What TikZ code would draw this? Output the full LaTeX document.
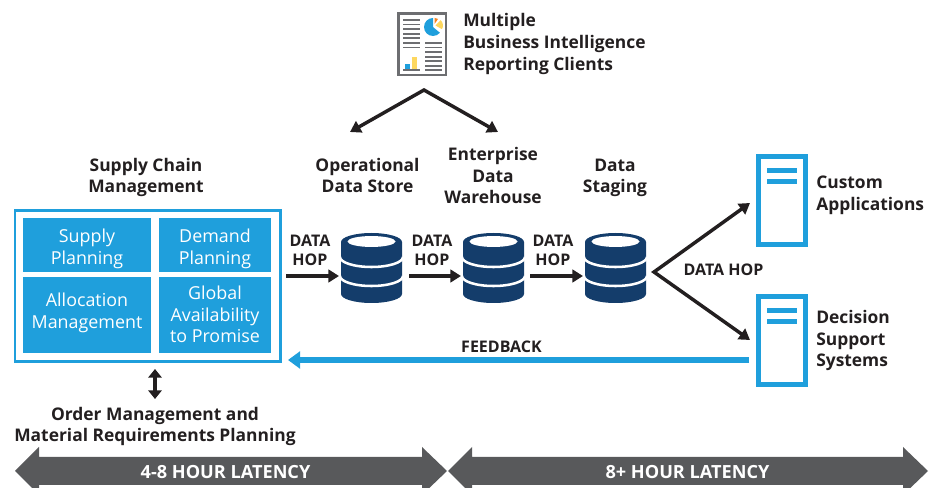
\documentclass[tikz,border=0pt]{standalone}
\usepackage{fontspec}
\setmainfont{Open Sans}
\usetikzlibrary{arrows.meta,positioning}
\definecolor{ink}{HTML}{231F20}
\definecolor{iblue}{HTML}{1F9FDC}
\definecolor{navy}{HTML}{143D6B}
\definecolor{band}{HTML}{58595B}
\definecolor{docgray}{HTML}{6D6E71}
\definecolor{iyellow}{HTML}{FDD75F}
\definecolor{iorange}{HTML}{F5811F}
\tikzset{
  x=0.75pt,y=-0.75pt,
  head/.style={text=ink,font=\fontsize{13.05pt}{16.2pt}\selectfont\bfseries,align=center,inner sep=0pt},
  headl/.style={head,align=left,anchor=west},
  hop/.style={text=ink,font=\fontsize{12pt}{14.6pt}\selectfont\bfseries,align=center,inner sep=0pt},
  cell/.style={fill=iblue,draw=none,inner sep=0pt,anchor=north west},
  celltext/.style={text=white,font=\fontsize{13.4pt}{16.1pt}\selectfont,align=center,inner sep=0pt},
  conn/.style={ink,line width=2.6pt,-{Triangle[length=8pt,width=9.5pt]}},
  twoway/.style={ink,line width=2.6pt,miter limit=10,{Triangle[length=8pt,width=9.5pt]}-{Triangle[length=8pt,width=9.5pt]}},
  bar/.style={fill=band,draw=none},
  barlabel/.style={text=white,font=\fontsize{13.6pt}{15pt}\selectfont\bfseries,inner sep=0pt},
}
\newcommand{\dbicon}[1]{%
  \begin{scope}[shift={(#1,233)}]
    \fill[navy] (0,9) arc[x radius=22.875pt,y radius=6.75pt,start angle=180,end angle=0]
      -- (61,61) arc[x radius=22.875pt,y radius=6.75pt,start angle=360,end angle=180] -- cycle;
    \fill[white] (30.5,8.5) ellipse[x radius=18pt,y radius=4.1pt];
    \draw[white,line width=1.9pt] (-1,24) arc[x radius=23.6pt,y radius=7.5pt,start angle=180,end angle=360];
    \draw[white,line width=1.9pt] (-1,43) arc[x radius=23.6pt,y radius=7.5pt,start angle=180,end angle=360];
  \end{scope}}
\newcommand{\servericon}[1]{%
  \begin{scope}[shift={(756,#1)}]
    \draw[iblue,line width=3.9pt] (2.6,2.6) rectangle (49.4,90.4);
    \fill[iblue] (11,14) rectangle (41,19.5);
    \fill[iblue] (11,25) rectangle (41,30.5);
  \end{scope}}
\begin{document}
\begin{tikzpicture}
\useasboundingbox (0,0) rectangle (940,488);
\clip (0,0) rectangle (940,488);
% report icon
\draw[docgray,line width=2pt] (398.5,13.5) rectangle (446,75);
\foreach \yy in {20,24.6,29.2,33.8,38.4,43,47.6}
  \fill[docgray] (403,\yy-0.9) rectangle (420,\yy+0.9);
\foreach \yy in {43,47.6,52.2,56.8,61.4,66,70}
  \fill[docgray] (425,\yy-0.9) rectangle (442,\yy+0.9);
\fill[docgray] (403,69) rectangle (420,71.2);
\fill[iblue] (405,64) rectangle (409.5,69);
\fill[iyellow] (412,57) rectangle (417,69);
\fill[iblue] (433,27) -- ++(90:6.75pt) arc[radius=6.75pt,start angle=90,end angle=320] -- cycle;
\fill[iyellow] (435.5,25.5) -- ++(45:5.6pt) arc[radius=5.6pt,start angle=45,end angle=-30] -- cycle;
\fill[iorange] (434.5,24) -- ++(90:4.6pt) arc[radius=4.6pt,start angle=90,end angle=55] -- cycle;
\coordinate (reportbase) at (424,90);
\node[headl] (report) at (463,44) {Multiple\\Business Intelligence\\Reporting Clients};
% heads
\node[head] (ods) at (367.5,175.5) {Operational\\Data Store};
\node[head] (edw) at (493,175.5) {Enterprise\\Data\\Warehouse};
\node[head] (staging) at (615,178) {Data\\Staging};
\node[head] (scmhead) at (146,177.5) {Supply Chain\\Management};
\coordinate (odsin) at (350,132);
\coordinate (edwin) at (498,132);
\draw[twoway] (odsin) -- (reportbase) -- (edwin);
% scm
\node[draw=iblue,line width=2.2pt,minimum width=199pt,minimum height=112.6pt,inner sep=0pt,anchor=north west] (scm) at (13.5,209.5) {};
\node[cell,minimum width=96pt,minimum height=40.5pt] (supply) at (23,218) {};
\node[cell,minimum width=84pt,minimum height=40.5pt] (demand) at (159,218) {};
\node[cell,minimum width=96pt,minimum height=57pt] (alloc) at (23,277) {};
\node[cell,minimum width=84pt,minimum height=57pt] (global) at (159,277) {};
\node[celltext] (supplyt) at (87,249) {Supply\\Planning};
\node[celltext] (demandt) at (215,249) {Demand\\Planning};
\node[celltext] (alloct) at (87,313) {Allocation\\Management};
\node[celltext] (globalt) at (215,314.5) {Global\\Availability\\to Promise};
\node[head] (order) at (155,426.5) {Order Management and\\Material Requirements Planning};
\coordinate (dtop) at (155,369);
\coordinate (dbot) at (155,399);
\draw[ink,line width=2.6pt,{Triangle[length=6.5pt,width=10pt]}-{Triangle[length=6.5pt,width=10pt]}] (dtop) -- (dbot);
% databases
\dbicon{341}\dbicon{463}\dbicon{585}
\coordinate (in1) at (286,276);
\coordinate (db1l) at (339,276);
\coordinate (db1r) at (409,276);
\coordinate (db2l) at (461,276);
\coordinate (db2r) at (530,276);
\coordinate (db3l) at (583,276);
\draw[conn] (in1) -- (db1l);
\draw[conn] (db1r) -- (db2l);
\draw[conn] (db2r) -- (db3l);
\node[hop] (h1) at (310,250.5) {DATA\\HOP};
\node[hop] (h2) at (432,250.5) {DATA\\HOP};
\node[hop] (h3) at (553,250.5) {DATA\\HOP};
% servers
\servericon{154}\servericon{294}
\coordinate (fork) at (654,272);
\coordinate (s1in) at (750,203);
\coordinate (s2in) at (750,340);
\draw[twoway] (s1in) -- (fork) -- (s2in);
\node[hop] (h4) at (723.5,270) {DATA HOP};
\node[headl] (custom) at (816,195.5) {Custom\\Applications};
\node[headl] (dss) at (816,340.5) {Decision\\Support\\Systems};
% feedback
\coordinate (fbs) at (749,360);
\coordinate (fbe) at (288,360);
\draw[iblue,line width=3.9pt,-{Triangle[length=9pt,width=12.5pt]}] (fbs) -- (fbe);
\node[hop] (fb) at (501.5,347) {FEEDBACK};
% latency
\fill[bar] (15,471) -- (39,447) -- (39,457) -- (422,457) -- (422,447) -- (447,471) -- (422,495) -- (422,485) -- (39,485) -- (39,495) -- cycle;
\fill[bar] (448,471) -- (472,447) -- (472,457) -- (903,457) -- (903,447) -- (928,471) -- (903,495) -- (903,485) -- (472,485) -- (472,495) -- cycle;
\node[barlabel] (lat1) at (225.5,472) {4-8 HOUR LATENCY};
\node[barlabel] (lat2) at (687.5,472) {8+ HOUR LATENCY};
\end{tikzpicture}
\end{document}
